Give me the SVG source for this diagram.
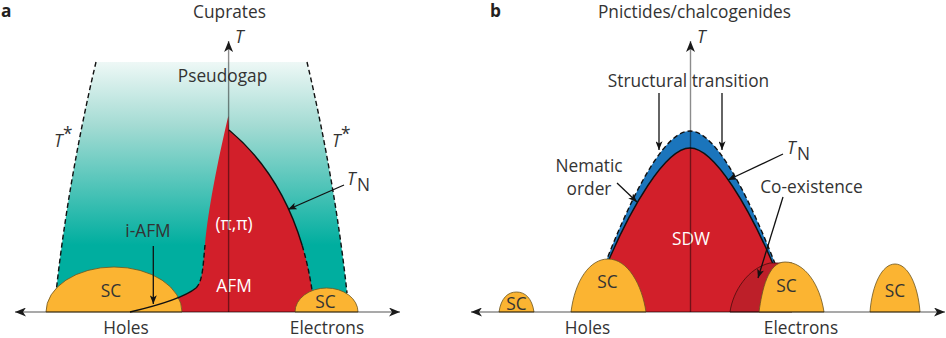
<svg xmlns="http://www.w3.org/2000/svg" width="946" height="338" viewBox="0 0 946 338">
<style>
text{font-family:"Open Sans","Noto Sans","DejaVu Sans",sans-serif;fill:#333333;font-size:17.3px}
.c{text-anchor:middle}
.w{fill:#ffffff}
.i{font-style:italic}
.b{font-weight:bold;fill:#231f20}
.sc{fill:#fbb432;stroke:#6b5420;stroke-width:0.8}
.red{fill:#d21f2a}
.ol{fill:none;stroke:#111;stroke-width:1.4}
.dash{fill:none;stroke:#111;stroke-width:1.4;stroke-dasharray:5 3}
.axis{fill:none;stroke:#000;stroke-opacity:0.45;stroke-width:1.4}
.ptr{fill:none;stroke:#111;stroke-width:1.3}
</style>
<defs>
<linearGradient id="teal" gradientUnits="userSpaceOnUse" x1="0" y1="62" x2="0" y2="245">
<stop offset="0" stop-color="#eef8f6"/>
<stop offset="0.35" stop-color="#a3dbd3"/>
<stop offset="1" stop-color="#00ae9f"/>
</linearGradient>
<marker id="ah" viewBox="0 0 11 9" refX="11" refY="4.5" markerWidth="11" markerHeight="9" markerUnits="userSpaceOnUse" orient="auto-start-reverse">
<path d="M0,0 L11,4.5 L0,9 L3,4.5 Z" fill="#1a1a1a"/>
</marker>
<marker id="ap" viewBox="0 0 10 8" refX="10" refY="4" markerWidth="9" markerHeight="7" markerUnits="userSpaceOnUse" orient="auto">
<path d="M0,0 L10,4 L0,8 L2.5,4 Z" fill="#111"/>
</marker>
</defs>

<!-- Panel a -->
<g id="a-label"><text class="b" x="1" y="17" font-size="17">a</text></g>
<g id="a-title"><text class="c" x="229.5" y="18">Cuprates</text></g>

<g id="a-pseudogap">
<path d="M96,62 L307,62 C316,100 336,190 347,293 L349,312 L54,312 L56,293 C67,190 87,100 96,62 Z" fill="url(#teal)"/>
<path class="dash" d="M307,62 C316,100 336,190 347,293"/>
<path class="dash" d="M96,62 C87,100 67,190 56,293"/>
<text class="c" x="222.5" y="82">Pseudogap</text>
</g>

<g id="a-afm">
<path class="red" d="M130,312 C160,305 185,297 196,288 C203,281 203,265 205,245 C208,210 218,160 228.3,116 L229,130 C257.8,154 285.96,190.8 302.22,245.52 C306.28,259.2 309.6,274 312,290 L314,312 Z"/>
<path class="ol" d="M229,130 C257.8,154 285.96,190.8 302.22,245.52"/>
<path class="dash" d="M302.22,245.52 C306.28,259.2 309.6,274 312,290"/>
<path class="dash" d="M196,288 C203,281 203,265 205,245"/>
<text class="c w" x="234" y="230">(π,π)</text>
<text class="c w" x="234" y="292">AFM</text>
</g>

<g id="a-sc-holes">
<path class="sc" d="M46,312 A68,45 0 0 1 182,312 Z"/>
<text class="c" x="111" y="297" font-size="18">SC</text>
</g>
<g id="a-sc-electrons">
<path class="sc" d="M295,312 A31.5,24 0 0 1 358,312 Z"/>
<text class="c" x="325.5" y="308" font-size="18">SC</text>
</g>

<g id="a-tn-hole-line">
<path class="ol" d="M130,312 C160,305 185,297 196,288"/>
</g>

<g id="a-axes">
<line class="axis" x1="228.6" y1="312" x2="228.6" y2="41" marker-end="url(#ah)"/>
<line class="axis" x1="15" y1="312" x2="400" y2="312" marker-start="url(#ah)" marker-end="url(#ah)"/>
<text class="i" x="235" y="43">T</text>
<text class="c" x="126" y="333.5">Holes</text>
<text class="c" x="327" y="333.5">Electrons</text>
</g>

<g id="a-tstar-left"><text class="i" x="54" y="147">T</text><text x="63" y="140" font-size="10">*</text></g>
<g id="a-tstar-right"><text class="i" x="332" y="147">T</text><text x="341" y="140" font-size="10">*</text></g>
<g id="a-tn-label"><text class="i" x="347" y="185">T</text><text x="357" y="191" font-size="12">N</text></g>
<g id="a-iafm-label"><text class="c" x="148" y="237">i-AFM</text></g>

<!-- Panel b -->
<g id="b-label"><text class="b" x="490" y="17" font-size="17">b</text></g>
<g id="b-title"><text class="c" x="694.5" y="18">Pnictides/chalcogenides</text></g>

<g id="b-nematic">
<path d="M605,264 C628,205 662,131 690,131 C718,131 752,205 776,266 L776,312 L605,312 Z" fill="#1b75bc"/>
<path class="dash" d="M605,264 C628,205 662,131 690,131 C718,131 752,205 776,266"/>
</g>
<g id="b-sdw">
<path class="red" d="M600,312 L608,262 C630,210 665,148 690,148 C715,148 750,210 773,264 L780,312 Z"/>
<path class="ol" d="M608,262 C630,210 665,148 690,148 C715,148 750,210 773,264"/>
<text class="c w" x="691" y="245">SDW</text>
</g>
<g id="b-coexistence">
<path d="M730,312 C733,291 748,268 770,263 L792,263 L792,312 Z" fill="#bd1f29" stroke="#4a0c0c" stroke-width="0.8"/>
</g>

<g id="b-sc-1">
<path class="sc" d="M499,312 C501,298 508,292 516.5,292 C525,292 532,298 534,312 Z"/>
<text class="c" x="516.5" y="310" font-size="15.5">SC</text>
</g>
<g id="b-sc-2">
<path class="sc" d="M571,312 C575,280 590,259 608,259 C628,259 642,285 646,312 Z"/>
<text class="c" x="607.5" y="288" font-size="18">SC</text>
</g>
<g id="b-sc-3">
<path class="sc" d="M759,312 C762,290 768,262 785,262 C805,262 820,285 824,312 Z"/>
<text class="c" x="786.5" y="292" font-size="18">SC</text>
</g>
<g id="b-sc-4">
<path class="sc" d="M870,312 C872,285 882,264 895,264 C908,264 918,285 920,312 Z"/>
<text class="c" x="895" y="297" font-size="18">SC</text>
</g>

<g id="b-axes">
<line class="axis" x1="690.5" y1="312" x2="690.5" y2="41" marker-end="url(#ah)"/>
<line class="axis" x1="471" y1="312" x2="945" y2="312" marker-start="url(#ah)" marker-end="url(#ah)"/>
<text class="i" x="697" y="43">T</text>
<text class="c" x="587.5" y="333.5">Holes</text>
<text class="c" x="801" y="333.5">Electrons</text>
</g>

<g id="b-structural-label"><text class="c" x="688.5" y="87">Structural transition</text></g>
<g id="b-tn-label"><text class="i" x="787" y="154">T</text><text x="797" y="160" font-size="12">N</text></g>
<g id="b-nematic-label"><text class="c" x="589" y="172">Nematic</text><text class="c" x="589" y="195">order</text></g>
<g id="b-coex-label"><text class="c" x="811.5" y="193">Co-existence</text></g>

<g id="connectors">
<line class="ptr" x1="153.3" y1="246" x2="153.3" y2="304" marker-end="url(#ap)"/>
<line class="ptr" x1="344" y1="185" x2="288" y2="209.5" marker-end="url(#ap)"/>
<line class="ptr" x1="659" y1="93" x2="659" y2="150" marker-end="url(#ap)"/>
<line class="ptr" x1="722" y1="93" x2="722" y2="150" marker-end="url(#ap)"/>
<line class="ptr" x1="783" y1="154" x2="728" y2="180" marker-end="url(#ap)"/>
<line class="ptr" x1="617" y1="183" x2="637" y2="202" marker-end="url(#ap)"/>
<line class="ptr" x1="783" y1="197" x2="758" y2="278" marker-end="url(#ap)"/>
</g>
</svg>
